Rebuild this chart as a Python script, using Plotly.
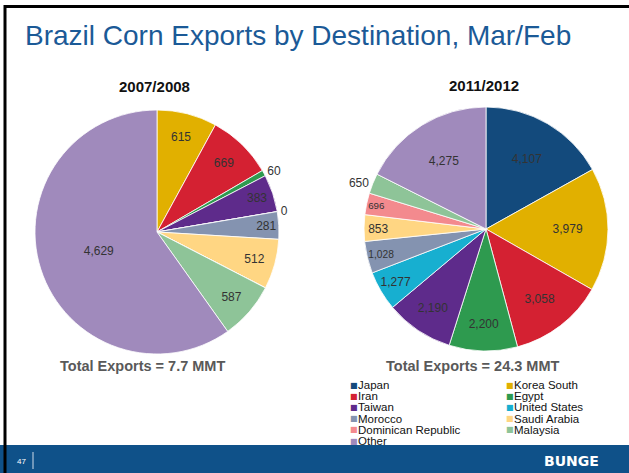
import plotly.graph_objects as go

W, H = 629, 473

# ---- data ----
destinations = ["Japan", "Korea South", "Iran", "Egypt", "Taiwan", "United States",
                "Morocco", "Saudi Arabia", "Dominican Republic", "Malaysia", "Other"]
exports_2007_08 = [0, 615, 669, 60, 383, 0, 281, 512, 0, 587, 4629]
exports_2011_12 = [4107, 3979, 3058, 2200, 2190, 1277, 1028, 853, 696, 650, 4275]
colors = ["#134A7C", "#E1B000", "#D42132", "#2E9A4F", "#5E2B8B", "#17AFD0",
          "#8493B0", "#FFD683", "#F38A8E", "#8EC498", "#A08ABC"]
# which labels show, and where (visual choice)
pos_2007_08 = ["none", "inside", "inside", "outside", "inside", "outside",
               "inside", "inside", "none", "inside", "inside"]
pos_2011_12 = ["inside"] * 9 + ["outside", "inside"]

title = "Brazil Corn Exports by Destination, Mar/Feb"
sub_left, sub_right = "2007/2008", "2011/2012"
total_left = "Total Exports = 7.7 MMT"
total_right = "Total Exports = 24.3 MMT"


def px(x):
    return x / W


def py(y):
    return 1 - y / H


def fmt(v):
    return f"{v:,}"


FONT = "Liberation Sans, Arial, sans-serif"

fig = go.Figure()

for vals, pos, (cx, cy, r) in [
    (exports_2007_08, pos_2007_08, (157, 232, 122)),
    (exports_2011_12, pos_2011_12, (486, 229, 122)),
]:
    fig.add_trace(go.Pie(
        labels=destinations,
        values=vals,
        text=[fmt(v) if p != "none" else "" for v, p in zip(vals, pos)],
        textinfo="text",
        textposition=pos,
        insidetextorientation="horizontal",
        sort=False,
        direction="clockwise",
        rotation=0,
        marker=dict(colors=colors, line=dict(color="#ffffff", width=0.8)),
        textfont=dict(family=FONT, size=12, color="#333333"),
        outsidetextfont=dict(family=FONT, size=12, color="#333333"),
        domain=dict(x=[px(cx - r), px(cx + r)], y=[py(cy + r), py(cy - r)]),
        showlegend=False,
        hoverinfo="label+value",
    ))

annotations = [
    dict(x=px(23), y=py(36), text=title, xanchor="left", yanchor="middle",
         font=dict(family=FONT, size=28, color="#1B5A97")),
    dict(x=px(154), y=py(86), text=f"<b>{sub_left}</b>", xanchor="center", yanchor="middle",
         font=dict(family=FONT, size=15, color="#111111")),
    dict(x=px(484), y=py(85), text=f"<b>{sub_right}</b>", xanchor="center", yanchor="middle",
         font=dict(family=FONT, size=15, color="#111111")),
    dict(x=px(142.5), y=py(366), text=f"<b>{total_left}</b>", xanchor="center", yanchor="middle",
         font=dict(family=FONT, size=14.5, color="#595959")),
    dict(x=px(473), y=py(366), text=f"<b>{total_right}</b>", xanchor="center", yanchor="middle",
         font=dict(family=FONT, size=14.5, color="#595959")),
    dict(x=px(15), y=py(461), text="47", xanchor="left", yanchor="middle",
         font=dict(family=FONT, size=8, color="#ffffff")),
    dict(x=px(601), y=py(461), text="<b>BUNGE</b>", xanchor="right", yanchor="middle",
         font=dict(family="DejaVu Sans, sans-serif", size=14, color="#ffffff")),
]

# custom two-column legend
col_x = [348, 504]
row_y0, row_dy = 385, 11.2
for i, (name, c) in enumerate(zip(destinations, colors)):
    row, col = divmod(i, 2)
    yy = row_y0 + row * row_dy
    annotations.append(dict(x=px(col_x[col]), y=py(yy), text="■", xanchor="left", yanchor="middle",
                            font=dict(family="DejaVu Sans", size=8, color=c)))
    annotations.append(dict(x=px(col_x[col] + 8), y=py(yy), text=name, xanchor="left", yanchor="middle",
                            font=dict(family=FONT, size=11.5, color="#111111")))

for a in annotations:
    a.update(xref="paper", yref="paper", showarrow=False)

shapes = [
    dict(type="rect", xref="paper", yref="paper", x0=0, x1=1, y0=0, y1=py(445),
         fillcolor="#0F5189", line=dict(width=0), layer="below"),
    dict(type="line", xref="paper", yref="paper", x0=px(33), x1=px(33), y0=py(469), y1=py(452),
         line=dict(color="#cfdbe8", width=1)),
    dict(type="line", xref="paper", yref="paper", x0=px(4), x1=1, y0=py(6.5), y1=py(6.5),
         line=dict(color="#000000", width=3)),
    dict(type="line", xref="paper", yref="paper", x0=px(5), x1=px(5), y0=0, y1=py(5),
         line=dict(color="#000000", width=3)),
]

fig.update_layout(
    width=W, height=H,
    margin=dict(l=0, r=0, t=0, b=0),
    paper_bgcolor="#ffffff",
    plot_bgcolor="#ffffff",
    annotations=annotations,
    shapes=shapes,
    showlegend=False,
)

fig.write_html("out.html", config={"displayModeBar": False},
               post_script="document.body.style.margin='0px';")
